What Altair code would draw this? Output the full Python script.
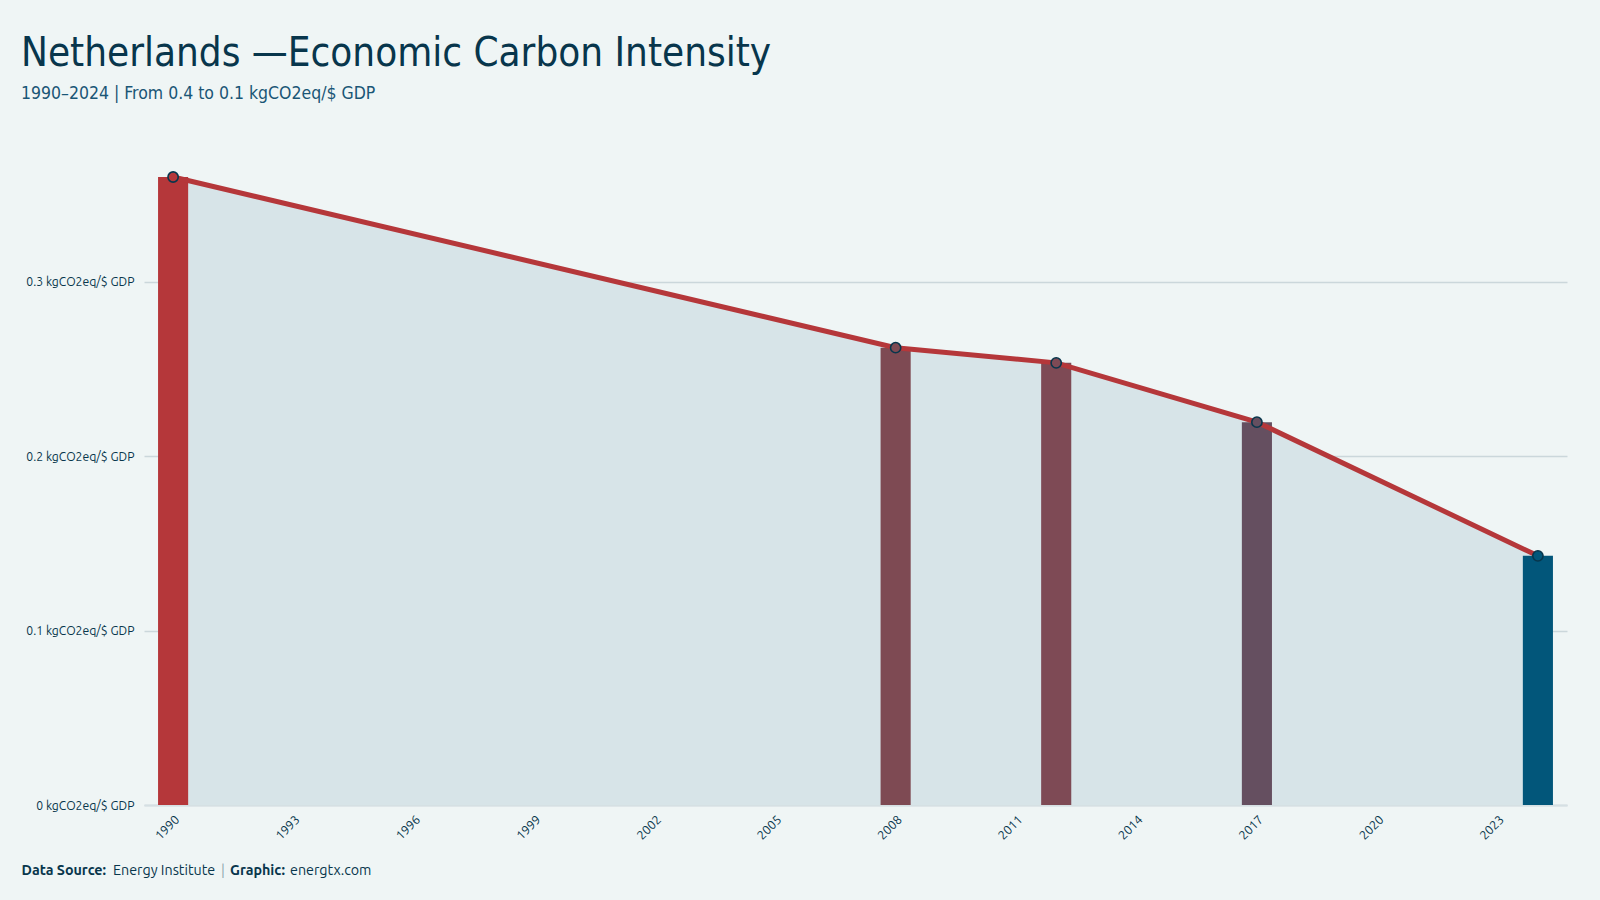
import altair as alt
import pandas as pd

# Economic carbon intensity of the Netherlands (kgCO2eq per $ of GDP)
years = [1990, 2008, 2012, 2017, 2024]
intensity = [0.3602, 0.2623, 0.2536, 0.2196, 0.1429]

all_years = list(range(1990, 2025))
year_ticks = list(range(1990, 2024, 3))
y_ticks = [0, 0.1, 0.2, 0.3]

bar_colors = ["#B5373A", "#7E4A53", "#7E4A55", "#654F60", "#02567A"]

footer_parts = ["Data Source:", "Energy Institute", "|", "Graphic:", "energtx.com"]

TITLE_FONT = "Ubuntu Condensed, DejaVu Sans Condensed, Roboto"
BODY_FONT = "Ubuntu, Noto Sans, Open Sans, sans-serif"
NAVY = "#08364C"

df = pd.DataFrame({"year": years, "value": intensity})

x = alt.X(
    "year:O",
    scale=alt.Scale(domain=all_years, paddingInner=0.25, paddingOuter=0.35),
    axis=alt.Axis(
        values=year_ticks,
        title=None,
        labelAngle=-45,
        labelFontSize=12.5,
        labelColor=NAVY,
        labelFont=BODY_FONT,
        labelPadding=8,
        ticks=False,
        domainColor="#D5E0E3",
        domainWidth=2,
        grid=False,
    ),
)
y = alt.Y(
    "value:Q",
    scale=alt.Scale(domain=[0, 0.3602], nice=False),
    axis=alt.Axis(
        values=y_ticks,
        title=None,
        format=".1~f",
        labelExpr="datum.label + ' kgCO2eq/$ GDP'",
        labelFontSize=12.2,
        labelColor=NAVY,
        labelFont=BODY_FONT,
        labelPadding=10,
        ticks=False,
        domain=False,
        grid=True,
        gridColor="#CBD7DB",
        gridWidth=1.3,
    ),
)
color_scale = alt.Scale(domain=years, range=bar_colors)

base = alt.Chart(df)

area = base.mark_area(color="#D7E4E8").encode(x=x, y=y)
bars = base.mark_bar().encode(
    x=x, y=y, color=alt.Color("year:O", scale=color_scale, legend=None)
)
line = base.mark_line(color="#B5373A", strokeWidth=5).encode(x=x, y=y)
points = base.mark_circle(size=105, opacity=1, stroke=NAVY, strokeWidth=1.6).encode(
    x=x, y=y, fill=alt.Fill("year:O", scale=color_scale, legend=None)
)

# Footer line built from separately styled pieces
footer_x = [-122.5, -31, 77, 86, 146]
footer_weight = ["bold", "normal", "normal", "bold", "normal"]
footer_color = [NAVY, NAVY, "#8FA6B0", NAVY, NAVY]
footer_layers = []
for part, fx, fw, fc in zip(footer_parts, footer_x, footer_weight, footer_color):
    footer_layers.append(
        alt.Chart(pd.DataFrame({"t": [part]}))
        .mark_text(
            align="left",
            baseline="middle",
            fontSize=14.3,
            font=BODY_FONT,
            fontWeight=fw,
            color=fc,
        )
        .encode(text="t:N", x=alt.value(fx), y=alt.value(694))
    )

chart = (
    alt.layer(area, bars, line, points, *footer_layers)
    .properties(
        width=1423,
        height=628,
        autosize=alt.AutoSizeParams(type="none"),
        padding={"left": 144, "top": 177, "right": 33, "bottom": 95},
        background="#EFF5F5",
        title=alt.Title(
            "Netherlands —Economic Carbon Intensity",
            subtitle="1990–2024 | From 0.4 to 0.1 kgCO2eq/$ GDP",
            anchor="start",
            frame="group",
            dx=-123,
            offset=65,
            font=TITLE_FONT,
            fontSize=40,
            fontWeight="normal",
            color=NAVY,
            subtitleFont=TITLE_FONT,
            subtitleFontSize=17.5,
            subtitleColor="#1A5676",
            subtitlePadding=11,
        ),
    )
    .configure_view(stroke=None)
)

chart.save("out.html", embed_options={"renderer": "svg", "actions": False})
